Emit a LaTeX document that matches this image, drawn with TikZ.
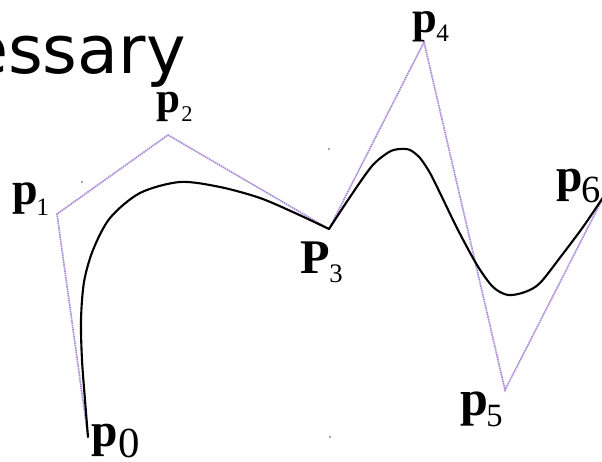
\documentclass[tikz,border=0pt]{standalone}
\usepackage{fontspec}
\setmainfont{Liberation Serif}
\newfontfamily\headfont{DejaVu Sans}
\definecolor{polycol}{RGB}{172,140,216}
\begin{document}
\begin{tikzpicture}[x=0.02cm,y=-0.02cm,
  poly/.style={draw=polycol, line width=0.95pt, dash pattern=on 0.9pt off 0.4pt},
  curve/.style={draw=black, line width=1.2pt, line join=round, line cap=round},
  plabel/.style={inner sep=0pt, anchor=south west, font=\fontsize{#1}{#1}\selectfont\bfseries},
  subidx/.style={inner sep=0pt, anchor=south west, font=\fontsize{#1}{#1}\selectfont},
  speck/.style={fill=black!70, draw=none}]
\useasboundingbox (0,0) rectangle (602,462);
\clip (0,0) rectangle (602,462);
\fill[white] (0,0) rectangle (602,462);

\node[inner sep=0pt, anchor=base east, font=\headfont\fontsize{38}{38}\selectfont] (title) at (186,74) {essary};

\coordinate (p0) at (88,437);
\coordinate (p1) at (57,214);
\coordinate (p2) at (168,135);
\coordinate (p3) at (329,229);
\coordinate (p4) at (424,42);
\coordinate (p5) at (505,390);
\coordinate (p6) at (604,196);

\draw[poly] (p0) -- (p1) -- (p2) -- (p3) -- (p4) -- (p5) -- (p6);

\draw[curve] plot[smooth] coordinates {(p0) (85,400) (82,360) (81,320) (84,282) (93,250) (110,218) (140,193) (180,182) (220,187) (260,198) (295,213) (p3)};
\draw[curve] plot[smooth] coordinates {(p3) (350,197) (372,166) (389,152) (400,149) (410,150) (420,158) (430,173) (440,193) (458,230) (477,265) (493,287) (508,295) (525,292) (540,283) (562,255) (583,227) (p6)};

\node[plabel=27] (l0) at (91,457) {p};
\node[subidx=24.4] (s0) at (118,458) {0};
\node[plabel=26.2] (l1) at (12,215) {p};
\node[subidx=14.3] (s1) at (36,216) {1};
\node[plabel=24.5] (l2) at (156,122) {p};
\node[subidx=12.8] (s2) at (181,122) {2};
\node[plabel=27.5] (l3) at (300,274) {P};
\node[subidx=15.2] (s3) at (329,283) {3};
\node[plabel=25.3] (l4) at (412,42) {p};
\node[subidx=14.3] (s4) at (436,42) {4};
\node[plabel=28.5] (l5) at (460,427) {p};
\node[subidx=18.5] (s5) at (486,427) {5};
\node[plabel=27] (l6) at (556,202) {p};
\node[subidx=21.9] (s6) at (581,203) {6};

\fill[speck] (82,182) circle (0.8);
\fill[speck] (329,149) circle (0.8);
\fill[speck] (330,437) circle (0.8);
\end{tikzpicture}
\end{document}
